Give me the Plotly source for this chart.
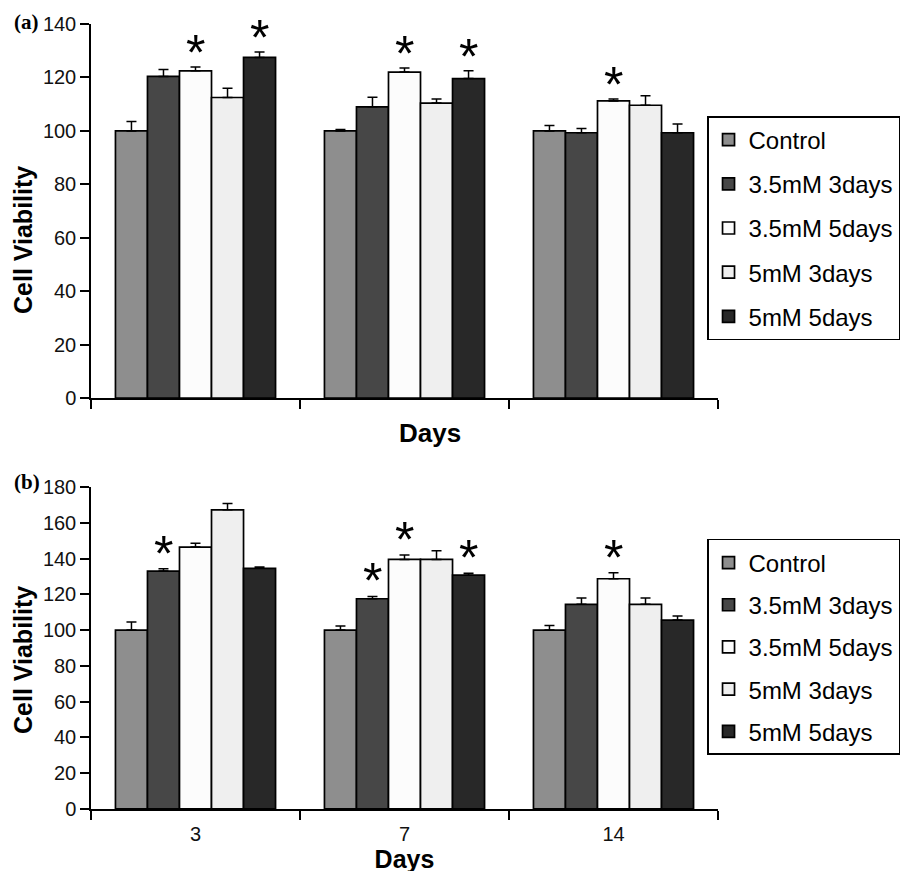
import plotly.graph_objects as go

days = ["3", "7", "14"]
series_names = ["Control", "3.5mM 3days", "3.5mM 5days", "5mM 3days", "5mM 5days"]
series_colors = ["#8e8e8e", "#474747", "#fcfcfc", "#efefef", "#282828"]

# Panel (a)
a_control = [100, 100, 100]
a_35_3 = [120.4, 109, 99.3]
a_35_5 = [122.5, 122, 111.2]
a_5_3 = [112.5, 110.4, 109.6]
a_5_5 = [127.5, 119.6, 99.3]
a_err_control = [3.5, 0.5, 2]
a_err_35_3 = [2.6, 3.6, 1.6]
a_err_35_5 = [1.4, 1.5, 0.7]
a_err_5_3 = [3.5, 1.5, 3.6]
a_err_5_5 = [2, 2.9, 3.3]
# significance stars: (day index, series index)
a_stars = [(0, 2), (0, 4), (1, 2), (1, 4), (2, 2)]

# Panel (b)
b_control = [100, 100, 100]
b_35_3 = [133, 117.5, 114.4]
b_35_5 = [146.4, 139.5, 128.7]
b_5_3 = [167.2, 139.5, 114.4]
b_5_5 = [134.5, 130.7, 105.6]
b_err_control = [4.5, 2.3, 2.5]
b_err_35_3 = [1.3, 1.3, 3.5]
b_err_35_5 = [2.2, 2.4, 3.4]
b_err_5_3 = [3.5, 4.8, 3.5]
b_err_5_5 = [0.7, 1.0, 2.3]
b_stars = [(0, 1), (1, 1), (1, 2), (1, 4), (2, 2)]

a_vals = [a_control, a_35_3, a_35_5, a_5_3, a_5_5]
a_errs = [a_err_control, a_err_35_3, a_err_35_5, a_err_5_3, a_err_5_5]
b_vals = [b_control, b_35_3, b_35_5, b_5_3, b_5_5]
b_errs = [b_err_control, b_err_35_3, b_err_35_5, b_err_5_3, b_err_5_5]

FONT = "Liberation Sans, Arial, sans-serif"
SERIF = "Liberation Serif, Times New Roman, serif"
BARGAP = 0.234
n = len(series_names)
bw = (1 - BARGAP) / n

fig = go.Figure()


def add_panel(vals, errs, xa, ya, legend_name):
    for i, name in enumerate(series_names):
        fig.add_trace(go.Bar(
            x=days, y=vals[i], name=name,
            marker=dict(color=series_colors[i], line=dict(color="black", width=1.7)),
            error_y=dict(type="data", array=errs[i], arrayminus=[0] * len(days),
                         symmetric=False, color="black", thickness=1.5, width=5),
            xaxis=xa, yaxis=ya, legend=legend_name, legendgroup=legend_name + str(i),
        ))


add_panel(a_vals, a_errs, "x", "y", "legend")
add_panel(b_vals, b_errs, "x2", "y2", "legend2")

annotations = []


def add_stars(stars, vals, errs, xref, yref, shift):
    for d, s in stars:
        annotations.append(dict(
            x=d + (s - (n - 1) / 2) * bw, y=vals[s][d] + errs[s][d],
            xref=xref, yref=yref, text="*", showarrow=False,
            yanchor="bottom", yshift=shift, borderpad=0,
            font=dict(family=FONT, size=50, color="black"),
        ))


add_stars(a_stars, a_vals, a_errs, "x", "y", -15)
add_stars(b_stars, b_vals, b_errs, "x2", "y2", -14)

PLOT_W = 627
annotations.append(dict(text="<b>(a)</b>", x=-79 / PLOT_W, y=(871 - 14) / 871, xref="paper", yref="paper",
                        xanchor="left", yanchor="middle", showarrow=False,
                        font=dict(family=SERIF, size=21, color="black")))
annotations.append(dict(text="<b>(b)</b>", x=-79 / PLOT_W, y=0.4558, xref="paper", yref="paper",
                        xanchor="left", yanchor="middle", showarrow=False,
                        font=dict(family=SERIF, size=21, color="black")))
annotations.append(dict(text="<b>Days</b>", x=(422 - 83) / PLOT_W, y=0.512, xref="paper", yref="paper",
                        xanchor="center", yanchor="middle", showarrow=False,
                        font=dict(family=FONT, size=26, color="black")))
annotations.append(dict(text="<b>Cell Viability</b>", x=-0.1085, y=0.7336, xref="paper", yref="paper",
                        xanchor="center", yanchor="middle", textangle=-90, showarrow=False,
                        font=dict(family=FONT, size=25, color="black")))
annotations.append(dict(text="<b>Cell Viability</b>", x=-0.1085, y=0.2514, xref="paper", yref="paper",
                        xanchor="center", yanchor="middle", textangle=-90, showarrow=False,
                        font=dict(family=FONT, size=25, color="black")))

xcommon = dict(type="category", range=[-0.5, 2.5], showline=True, linecolor="black", linewidth=1.5,
               ticks="outside", tickson="boundaries", ticklen=9, tickwidth=1.5, tickcolor="black",
               showgrid=False, zeroline=False,
               tickfont=dict(family=FONT, size=20, color="#111"))
ycommon = dict(showline=True, linecolor="black", linewidth=1.5, ticks="outside", ticklen=9,
               tickwidth=1.5, tickcolor="black", showgrid=False, zeroline=False, dtick=20,
               tickfont=dict(family=FONT, size=20, color="#111"))

fig.update_layout(
    width=910, height=871,
    margin=dict(l=83, r=200, t=0, b=0, autoexpand=False),
    paper_bgcolor="white", plot_bgcolor="white",
    barmode="group", bargap=BARGAP, bargroupgap=0,
    font=dict(family=FONT, color="black"),
    xaxis=dict(xcommon, domain=[0, 1], anchor="y", showticklabels=False),
    yaxis=dict(ycommon, domain=[0.5522, 0.9816], range=[0, 140], anchor="x"),
    xaxis2=dict(xcommon, domain=[0, 1], anchor="y2", ticklabelstandoff=6,
                title=dict(text="<b>Days</b>", standoff=0, font=dict(family=FONT, size=25))),
    yaxis2=dict(ycommon, domain=[0.0804, 0.4501], range=[0, 180], anchor="x2"),
    legend=dict(x=0.9825, y=0.876, xanchor="left", yanchor="top", bordercolor="black", borderwidth=1.5,
                font=dict(family=FONT, size=24, color="black"), tracegroupgap=10, bgcolor="white"),
    legend2=dict(x=0.9825, y=0.3904, xanchor="left", yanchor="top", bordercolor="black", borderwidth=1.5,
                 font=dict(family=FONT, size=24, color="black"), tracegroupgap=8, bgcolor="white"),
    annotations=annotations,
)

fig.write_html("out.html")
